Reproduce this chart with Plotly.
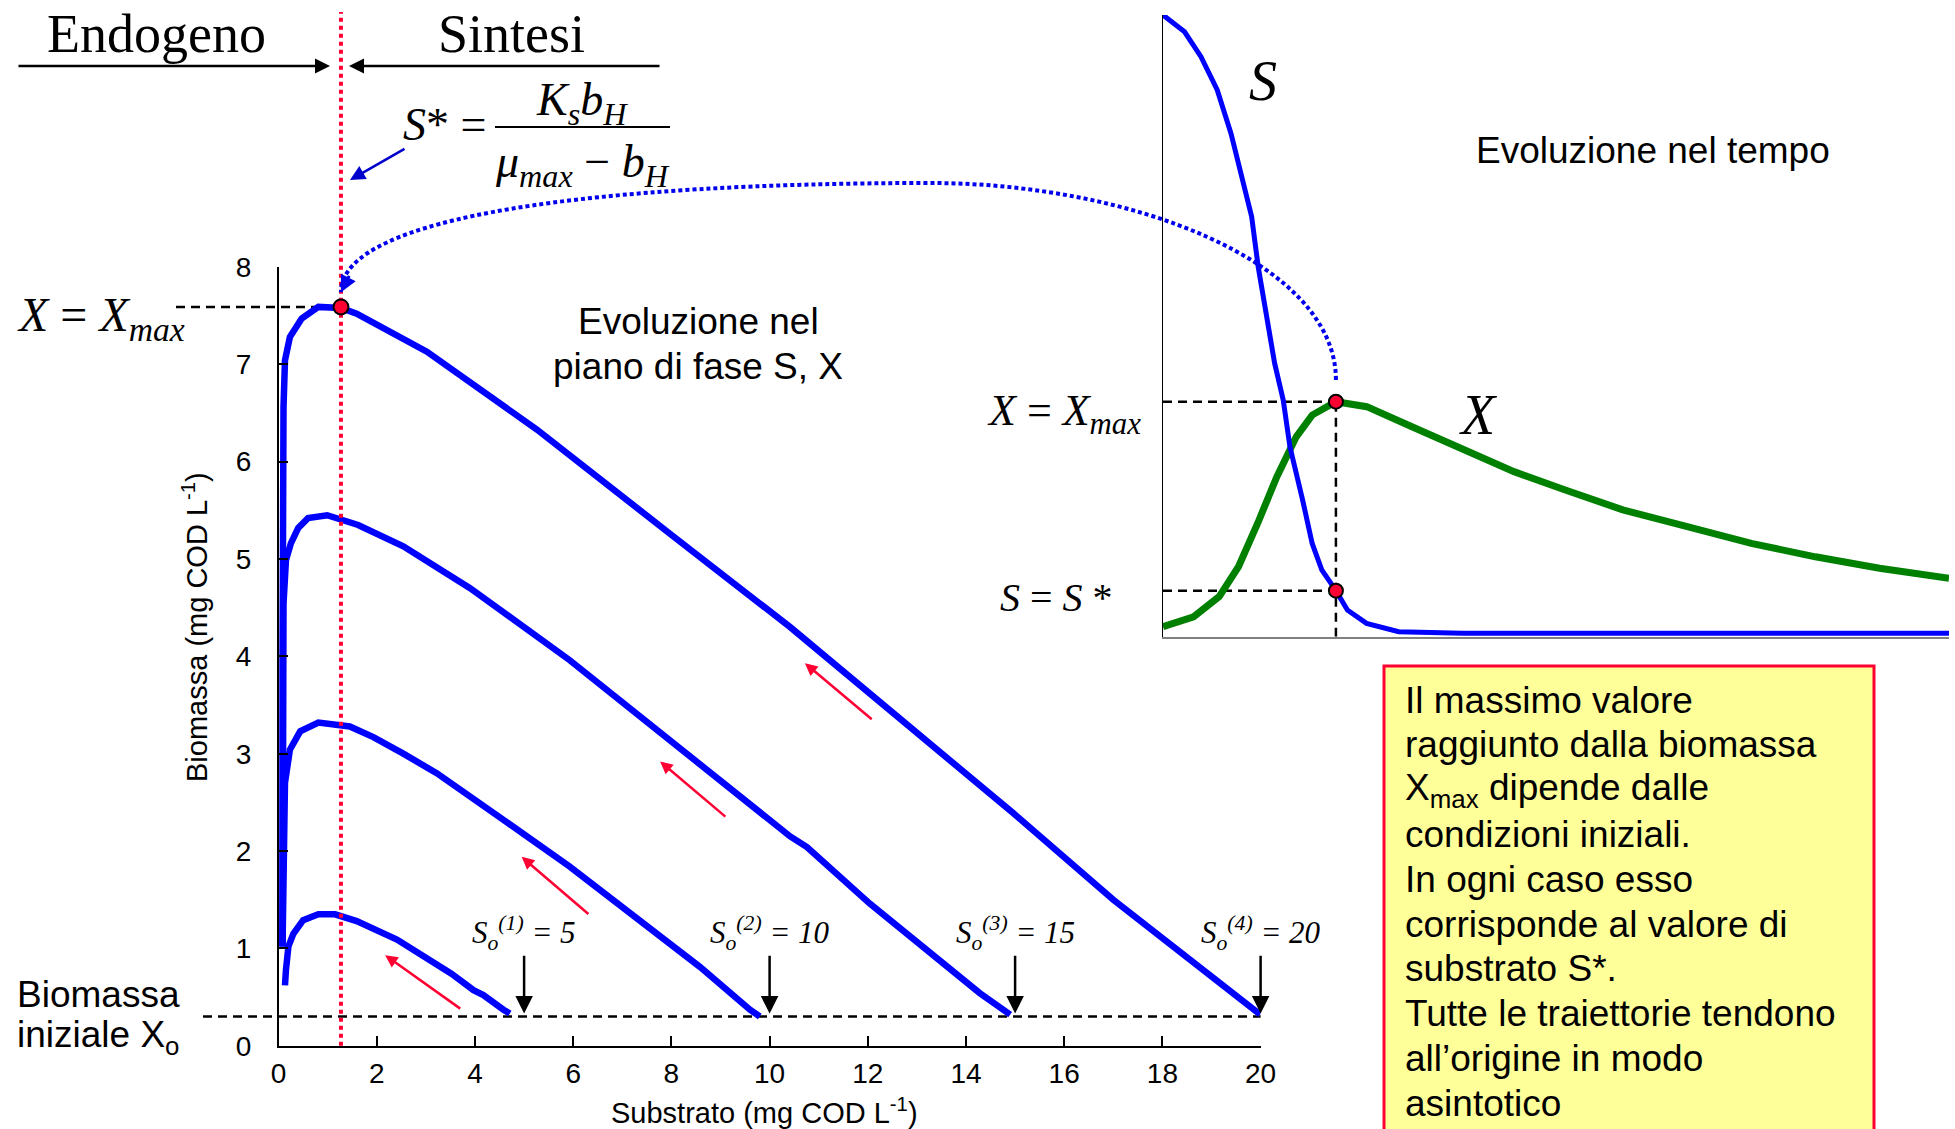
import plotly.graph_objects as go

W, H = 1955, 1129

# ---------------------------------------------------------------
# Phase-plane trajectories (substrate S, biomass X), mg COD/L
# ---------------------------------------------------------------
s_traj_1 = [4.71, 4.58, 4.17, 3.97, 3.52, 2.88, 2.41, 1.59, 1.45, 1.15, 0.81, 0.50, 0.30, 0.20, 0.15, 0.13]
x_traj_1 = [0.33, 0.37, 0.52, 0.57, 0.74, 0.95, 1.09, 1.28, 1.30, 1.35, 1.35, 1.29, 1.15, 1.02, 0.78, 0.62]

s_traj_2 = [9.80, 9.60, 8.58, 8.04, 7.29, 5.93, 4.58, 3.22, 2.54, 1.93, 1.45, 1.11, 0.81, 0.44, 0.23, 0.13, 0.10, 0.08]
x_traj_2 = [0.30, 0.37, 0.81, 1.02, 1.33, 1.84, 2.32, 2.80, 3.00, 3.17, 3.28, 3.31, 3.32, 3.23, 3.04, 2.70, 2.00, 1.02]

s_traj_3 = [14.90, 14.28, 12.04, 10.76, 10.42, 7.97, 5.93, 3.90, 2.54, 1.62, 1.28, 0.99, 0.60, 0.40, 0.25, 0.15, 0.10, 0.08]
x_traj_3 = [0.32, 0.54, 1.46, 2.04, 2.15, 3.14, 3.96, 4.70, 5.13, 5.35, 5.40, 5.45, 5.42, 5.32, 5.16, 4.99, 4.54, 1.02]

s_traj_4 = [19.99, 17.00, 14.96, 10.72, 10.42, 7.97, 5.26, 3.02, 1.59, 1.27, 0.81, 0.47, 0.23, 0.13, 0.10, 0.08, 0.08]
x_traj_4 = [0.32, 1.50, 2.39, 4.17, 4.30, 5.26, 6.33, 7.13, 7.52, 7.58, 7.59, 7.47, 7.28, 7.04, 6.56, 4.00, 1.02]

S0_VALUES = [5, 10, 15, 20]
S0_LABELS = ["(1)", "(2)", "(3)", "(4)"]
X0 = 0.3
S_STAR = 1.27
X_MAX = 7.59

x_ticks = [0, 2, 4, 6, 8, 10, 12, 14, 16, 18, 20]
y_ticks = [0, 1, 2, 3, 4, 5, 6, 7, 8]

# direction arrows along each trajectory: (S tail, X tail, S head, X head)
flow_arrows = [
    (3.73, 0.37, 2.17, 0.93),
    (6.34, 1.34, 4.95, 1.94),
    (9.13, 2.34, 7.77, 2.92),
    (12.11, 3.34, 10.72, 3.93),
]

# ---------------------------------------------------------------
# Time evolution for S0 = 20 (arbitrary time units)
# ---------------------------------------------------------------
t_sub = [0, 2.74, 4.83, 6.9, 8.65, 10.38, 11.28, 12.11, 13.15, 14.2, 15.3, 16.15, 17.76, 18.98, 20.2, 22.0, 23.46, 25.9, 29.99, 38.1, 100]
s_time = [20.0, 19.46, 18.66, 17.59, 16.19, 14.48, 13.51, 11.90, 10.29, 8.80, 7.61, 6.11, 4.40, 3.00, 2.15, 1.48, 0.86, 0.43, 0.16, 0.11, 0.11]

t_bio = [0, 3.89, 7.15, 9.6, 12.05, 14.49, 16.95, 18.98, 22.0, 25.92, 31.6, 38.13, 44.66, 51.18, 58.5, 66.7, 74.85, 83.0, 91.16, 100]
x_time = [0.32, 0.64, 1.29, 2.25, 3.65, 5.15, 6.43, 7.13, 7.56, 7.40, 6.76, 6.01, 5.31, 4.72, 4.08, 3.54, 3.00, 2.57, 2.20, 1.88]

T_PEAK = 22.0
X_PEAK = 7.56
S_AT_PEAK = 1.48

# ---------------------------------------------------------------
# Styling and layout geometry
# ---------------------------------------------------------------
SANS = "Liberation Sans, Arial, sans-serif"
SERIF = "Liberation Serif, Times New Roman, serif"
BLUE = "#0000ff"
GREEN = "#008000"
RED = "#ff0033"

MAIN_X_DOM = (278.6 / W, 1260.6 / W)
MAIN_Y_DOM = (1 - 1045.7 / H, 1 - 267 / H)
MAIN_X_RANGE = (0, 20)
MAIN_Y_RANGE = (0, 8)
INSET_X_DOM = (1163 / W, 1949 / W)
INSET_Y_DOM = (1 - 636.7 / H, 1 - 15 / H)
INSET_X_RANGE = (0, 100)
INSET_Y_RANGE = (0, 20)


def px(x):
    return x / W


def py(y):
    return 1 - y / H


def to_paper(v, dom, rng):
    return dom[0] + (v - rng[0]) / (rng[1] - rng[0]) * (dom[1] - dom[0])


def main_paper(s, x):
    return to_paper(s, MAIN_X_DOM, MAIN_X_RANGE), to_paper(x, MAIN_Y_DOM, MAIN_Y_RANGE)


def inset_paper(t, v):
    return to_paper(t, INSET_X_DOM, INSET_X_RANGE), to_paper(v, INSET_Y_DOM, INSET_Y_RANGE)


fig = go.Figure()

# phase-plane curves
for s_vals, x_vals in [(s_traj_1, x_traj_1), (s_traj_2, x_traj_2), (s_traj_3, x_traj_3), (s_traj_4, x_traj_4)]:
    fig.add_trace(go.Scatter(x=s_vals, y=x_vals, mode="lines", xaxis="x", yaxis="y",
                             line=dict(color=BLUE, width=6.5), hoverinfo="skip"))

# time evolution curves
fig.add_trace(go.Scatter(x=t_bio, y=x_time, mode="lines", xaxis="x2", yaxis="y2",
                         line=dict(color=GREEN, width=7), hoverinfo="skip"))
fig.add_trace(go.Scatter(x=t_sub, y=s_time, mode="lines", xaxis="x2", yaxis="y2",
                         line=dict(color=BLUE, width=5), hoverinfo="skip"))
fig.add_trace(go.Scatter(x=[T_PEAK, T_PEAK], y=[X_PEAK, S_AT_PEAK], mode="markers", xaxis="x2", yaxis="y2",
                         marker=dict(color=RED, size=14, line=dict(color="black", width=2)),
                         cliponaxis=False, hoverinfo="skip"))

shapes = []
dash_style = dict(color="black", width=2.5, dash="9px,6px")

# guide lines in the phase plane
shapes.append(dict(type="line", xref="paper", yref="y", x0=px(176), x1=main_paper(S_STAR, 0)[0],
                   y0=X_MAX, y1=X_MAX, line=dash_style, layer="below"))
shapes.append(dict(type="line", xref="paper", yref="y", x0=px(203), x1=main_paper(20, 0)[0],
                   y0=X0, y1=X0, line=dash_style, layer="below"))

# guide lines in the time plot
shapes.append(dict(type="line", xref="x2", yref="y2", x0=0, x1=T_PEAK, y0=X_PEAK, y1=X_PEAK,
                   line=dash_style, layer="below"))
shapes.append(dict(type="line", xref="x2", yref="y2", x0=0, x1=T_PEAK, y0=S_AT_PEAK, y1=S_AT_PEAK,
                   line=dash_style, layer="below"))
shapes.append(dict(type="line", xref="x2", yref="y2", x0=T_PEAK, x1=T_PEAK, y0=0, y1=X_PEAK,
                   line=dash_style, layer="below"))

# S* separator between endogenous and synthesis regions
shapes.append(dict(type="line", xref="x", yref="paper", x0=S_STAR, x1=S_STAR,
                   y0=MAIN_Y_DOM[0], y1=py(12), line=dict(color=RED, width=4, dash="4px,4px"), layer="above"))
shapes.append(dict(type="circle", xref="x", yref="y", xsizemode="pixel", ysizemode="pixel",
                   xanchor=S_STAR, yanchor=X_MAX, x0=-7.5, x1=7.5, y0=-7.5, y1=7.5,
                   fillcolor=RED, line=dict(color="black", width=2), layer="above"))

# dotted connector from the time-plot peak to the phase-plane maximum
sx, sy = inset_paper(T_PEAK, 8.26)
ex, ey = main_paper(S_STAR, 7.74)
apex_x, apex_y = px(930), py(183)
arc = (f"M {sx},{sy} C {sx},{py(262)} {px(1130)},{apex_y} {apex_x},{apex_y} "
       f"C {px(600)},{apex_y} {ex},{py(215)} {ex},{ey}")
shapes.append(dict(type="path", xref="paper", yref="paper", path=arc,
                   line=dict(color="#0000ee", width=4, dash="4px,3px"), layer="above"))

# formula fraction bar
shapes.append(dict(type="line", xref="paper", yref="paper", x0=px(495), x1=px(670), y0=py(127), y1=py(127),
                   line=dict(color="black", width=2)))

# note box
shapes.append(dict(type="rect", xref="paper", yref="paper", x0=px(1384), x1=px(1874), y0=py(1140), y1=py(666),
                   fillcolor="#ffff99", line=dict(color=RED, width=3), layer="below"))

ann = []


def text(x, y, s, size, family=SANS, xanchor="center", yanchor="middle", angle=0):
    ann.append(dict(xref="paper", yref="paper", x=x, y=y, text=s, showarrow=False,
                    font=dict(family=family, size=size, color="black"),
                    xanchor=xanchor, yanchor=yanchor, textangle=angle))


# headers and formula
text(px(156), py(34), "Endogeno", 54, SERIF)
text(px(512), py(34), "Sintesi", 54, SERIF)
text(px(444), py(125), "<i>S</i>* =", 46, SERIF)
text(px(582), py(103), "<i>K<sub>s</sub>b<sub>H</sub></i>", 46, SERIF)
text(px(582), py(165), "<i>μ<sub>max</sub></i> − <i>b<sub>H</sub></i>", 46, SERIF)

# region arrows
ann.append(dict(xref="paper", yref="paper", x=px(330), y=py(66), ax=-313, ay=0, text="", showarrow=True,
                arrowhead=2, arrowsize=1.2, arrowwidth=2.5, arrowcolor="black"))
ann.append(dict(xref="paper", yref="paper", x=px(349), y=py(66), ax=312, ay=0, text="", showarrow=True,
                arrowhead=2, arrowsize=1.2, arrowwidth=2.5, arrowcolor="black"))
ann.append(dict(xref="paper", yref="paper", x=px(350), y=py(180), ax=56, ay=-32, text="", showarrow=True,
                arrowhead=2, arrowsize=1.2, arrowwidth=2.5, arrowcolor="#0000cc"))
# head of the dotted connector
ann.append(dict(xref="x", yref="y", x=S_STAR, y=7.74, ax=9, ay=-18, text="", showarrow=True,
                arrowhead=2, arrowsize=1.1, arrowwidth=3, arrowcolor="#0000ee"))

# labels around the phase plane
text(px(15), py(318), "<i>X</i> = <i>X<sub>max</sub></i>", 48, SERIF, xanchor="left")
text(px(15), py(994), "Biomassa", 37, SANS, xanchor="left")
text(px(15), py(1037), "iniziale X<sub>o</sub>", 37, SANS, xanchor="left")
text(px(698), py(322), "Evoluzione nel", 37)
text(px(698), py(366), "piano di fase S, X", 37)
text(px(195), py(627), "Biomassa (mg COD L<sup>-1</sup>)", 29, angle=-90)
text(px(764), py(1111), "Substrato (mg COD L<sup>-1</sup>)", 29)

# initial substrate markers
for s0, tag in zip(S0_VALUES, S0_LABELS):
    ann.append(dict(xref="x", yref="y", x=s0, y=1.16, showarrow=False,
                    text=f"<i>S<sub>o</sub><sup>{tag}</sup> = {s0}</i>",
                    font=dict(family=SERIF, size=31, color="black")))
    ann.append(dict(xref="x", yref="y", x=s0, y=X0 + 0.03, axref="x", ayref="y", ax=s0, ay=0.94,
                    text="", showarrow=True, arrowhead=2, arrowsize=1.4, arrowwidth=2.5, arrowcolor="black"))

for s_t, x_t, s_h, x_h in flow_arrows:
    ann.append(dict(xref="x", yref="y", x=s_h, y=x_h, axref="x", ayref="y", ax=s_t, ay=x_t,
                    text="", showarrow=True, arrowhead=2, arrowsize=1.0, arrowwidth=2.5, arrowcolor=RED))

# time plot labels
text(px(1653), py(151), "Evoluzione nel tempo", 37)
text(px(1263), py(81), "<i>S</i>", 56, SERIF)
text(px(1478), py(415), "<i>X</i>", 56, SERIF)
text(px(1143), py(414), "<i>X</i> = <i>X<sub>max</sub></i>", 44, SERIF, xanchor="right")
text(px(1115), py(597), "<i>S</i> = <i>S</i> *", 40, SERIF, xanchor="right")

# note box text
note_lines = [
    "Il massimo valore",
    "raggiunto dalla biomassa",
    "X<sub>max</sub> dipende dalle",
    "condizioni iniziali.",
    "In ogni caso esso",
    "corrisponde al valore di",
    "substrato S*.",
    "Tutte le traiettorie tendono",
    "all’origine in modo",
    "asintotico",
]
for i, line in enumerate(note_lines):
    text(px(1403), py(700 + i * 44.8), line, 37, SANS, xanchor="left")

axis_common = dict(showgrid=False, zeroline=False, automargin=False)

fig.update_layout(
    width=W, height=H,
    margin=dict(l=0, r=0, t=0, b=0, pad=0, autoexpand=False),
    paper_bgcolor="white",
    plot_bgcolor="rgba(0,0,0,0)",
    showlegend=False,
    shapes=shapes,
    annotations=ann,
    xaxis=dict(domain=list(MAIN_X_DOM), range=list(MAIN_X_RANGE), anchor="y",
               tickvals=x_ticks, ticks="inside", ticklen=10, tickwidth=1.5, tickcolor="black",
               showline=True, linecolor="black", linewidth=2,
               tickfont=dict(family=SANS, size=28, color="black"), ticklabelstandoff=2, **axis_common),
    yaxis=dict(domain=list(MAIN_Y_DOM), range=list(MAIN_Y_RANGE), anchor="x",
               tickvals=y_ticks, ticks="inside", ticklen=10, tickwidth=1.5, tickcolor="black",
               showline=True, linecolor="black", linewidth=1.5,
               tickfont=dict(family=SANS, size=28, color="black"), ticklabelstandoff=20, **axis_common),
    xaxis2=dict(domain=list(INSET_X_DOM), range=list(INSET_X_RANGE), anchor="y2",
                showline=True, linecolor="#808080", linewidth=2, showticklabels=False, ticks="", **axis_common),
    yaxis2=dict(domain=list(INSET_Y_DOM), range=list(INSET_Y_RANGE), anchor="x2",
                showline=True, linecolor="black", linewidth=1, showticklabels=False, ticks="", **axis_common),
)

fig.write_html("out.html", config={"displayModeBar": False})
